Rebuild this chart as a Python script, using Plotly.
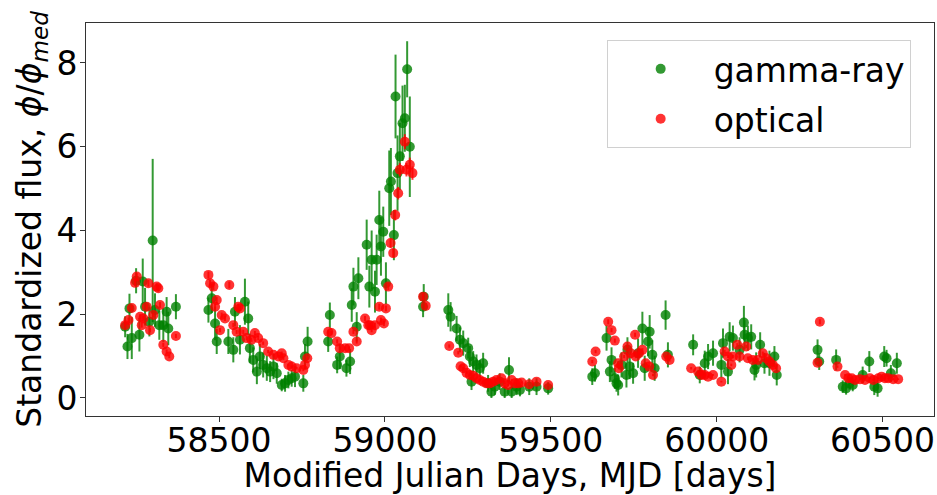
import plotly.graph_objects as go

# gamma-ray light curve (MJD, standardized flux, error)
gamma_mjd = [
    58217, 58224, 58230, 58237, 58250, 58260, 58270, 58277, 58290, 58300,
    58307, 58320, 58332, 58342, 58347, 58370,
    58468, 58478, 58488, 58493, 58528, 58543, 58548, 58563, 58578, 58588,
    58593, 58603, 58614, 58623, 58633, 58644, 58654, 58664, 58674, 58689,
    58699, 58709, 58719, 58729, 58754, 58759, 58767,
    58829, 58834, 58856, 58864, 58884, 58895, 58900, 58905, 58915, 58920,
    58945, 58953, 58960, 58970, 58975, 58983, 58988, 58995, 59003, 59013,
    59018, 59027, 59032, 59038, 59045, 59053, 59060, 59067, 59075,
    59115, 59117, 59191, 59198, 59216, 59226, 59236, 59251, 59256, 59261,
    59266, 59276, 59286, 59296, 59311, 59321, 59331, 59346, 59361, 59374,
    59382, 59397, 59407, 59435, 59457, 59492,
    59625, 59633, 59668, 59678, 59683, 59693, 59698, 59703, 59713, 59728,
    59731, 59738, 59748, 59763, 59776, 59783, 59793, 59798, 59806, 59813,
    59846, 59853,
    59929, 59949, 59964, 59974, 59989, 60014, 60019, 60034, 60039, 60049,
    60069, 60082, 60084, 60094, 60104, 60114, 60119, 60131, 60144, 60159,
    60174, 60181,
    60304, 60309, 60360, 60380, 60390, 60400, 60410, 60440, 60460, 60475,
    60485, 60505, 60512, 60525, 60543,
]
gamma_flux = [
    1.70, 1.23, 2.14, 1.43, 2.80, 1.51, 2.78, 2.18, 1.82, 3.76,
    2.10, 1.74, 1.74, 2.06, 1.66, 2.18,
    2.10, 2.38, 1.78, 1.35, 1.35, 1.15, 2.06, 1.39, 2.30, 1.90,
    1.19, 0.91, 0.63, 0.99, 0.79, 0.71, 0.63, 0.75, 0.59, 0.31,
    0.35, 0.43, 0.47, 0.51, 0.35, 0.99, 1.35,
    1.35, 1.98, 0.79, 0.99, 0.71, 0.87, 2.22, 2.66, 1.70, 2.86,
    3.66, 2.66, 3.30, 2.54, 3.30, 4.25, 3.62, 3.97, 2.74, 5.01,
    5.17, 3.89, 7.20, 5.37, 5.77, 6.56, 6.68, 7.85, 6.00,
    2.18, 2.42, 2.10, 1.94, 1.66, 1.39, 1.31, 1.19, 0.99, 0.39,
    0.87, 0.79, 0.71, 0.83, 0.35, 0.15, 0.27, 0.39, 0.15, 0.67,
    0.15, 0.27, 0.19, 0.27, 0.27, 0.23,
    0.51, 0.59, 1.43, 0.63, 0.91, 0.47, 0.35, 0.31, 0.79, 0.55,
    1.15, 0.75, 0.59, 1.07, 1.66, 0.71, 1.35, 1.58, 1.03, 0.71,
    1.98, 1.03,
    1.27, 0.55, 0.83, 0.99, 1.07, 0.79, 1.31, 0.63, 1.46, 1.43,
    1.15, 1.80, 1.51, 1.43, 1.46, 0.67, 0.79, 1.27, 0.83, 0.83,
    0.99, 0.55,
    1.15, 0.87, 0.91, 0.27, 0.23, 0.35, 0.31, 0.55, 0.87, 0.27,
    0.23, 0.99, 0.95, 0.59, 0.83,
]
gamma_err = [
    0.25, 0.30, 0.35, 0.50, 0.30, 0.40, 0.55, 0.45, 0.35, 1.95,
    0.40, 0.35, 0.40, 0.35, 0.40, 0.30,
    0.30, 0.35, 0.40, 0.30, 0.30, 0.30, 0.35, 0.35, 0.55, 0.40,
    0.35, 0.30, 0.30, 0.30, 0.30, 0.30, 0.25, 0.30, 0.25, 0.15,
    0.20, 0.20, 0.20, 0.25, 0.20, 0.30, 0.35,
    0.25, 0.30, 0.20, 0.30, 0.20, 0.30, 0.40, 0.45, 0.35, 0.50,
    0.60, 0.50, 0.70, 0.50, 0.60, 0.70, 0.70, 0.60, 0.50, 0.90,
    0.80, 0.60, 1.00, 0.90, 0.80, 0.90, 0.80, 0.67, 1.20,
    0.25, 0.30, 0.40, 0.35, 0.30, 0.30, 0.30, 0.25, 0.25, 0.20,
    0.25, 0.25, 0.20, 0.25, 0.20, 0.15, 0.20, 0.20, 0.15, 0.30,
    0.15, 0.20, 0.15, 0.20, 0.20, 0.15,
    0.20, 0.20, 0.30, 0.25, 0.30, 0.25, 0.20, 0.25, 0.30, 0.30,
    0.30, 0.30, 0.25, 0.35, 0.40, 0.30, 0.35, 0.40, 0.35, 0.30,
    0.35, 0.30,
    0.25, 0.20, 0.30, 0.30, 0.30, 0.30, 0.35, 0.30, 0.35, 0.30,
    0.30, 0.40, 0.35, 0.30, 0.30, 0.25, 0.30, 0.30, 0.25, 0.30,
    0.25, 0.25,
    0.25, 0.20, 0.25, 0.15, 0.15, 0.15, 0.15, 0.20, 0.25, 0.20,
    0.20, 0.25, 0.20, 0.20, 0.25,
]

# optical light curve
optical_mjd = [
    58217, 58227, 58237, 58247, 58252, 58262, 58267, 58272, 58282, 58287,
    58292, 58302, 58312, 58317, 58322, 58332, 58342, 58350, 58370,
    58468, 58473, 58483, 58488, 58493, 58503, 58508, 58518, 58531, 58543,
    58553, 58558, 58563, 58573, 58583, 58598, 58608, 58618, 58633, 58648,
    58664, 58679, 58689, 58694, 58709, 58719, 58734, 58754, 58759, 58766,
    58829, 58839, 58856, 58864, 58880, 58892, 58905, 58915, 58940, 58950,
    58955, 58960, 58970, 58983, 58988, 58997, 59003, 59010, 59017, 59025,
    59031, 59040, 59045, 59060, 59065, 59075, 59083,
    59115, 59123, 59194, 59221, 59228, 59236, 59246, 59256, 59266, 59276,
    59286, 59296, 59306, 59316, 59326, 59336, 59351, 59361, 59371, 59382,
    59392, 59402, 59412, 59435, 59457, 59492,
    59625, 59635, 59673, 59683, 59693, 59703, 59705, 59721, 59731, 59741,
    59754, 59756, 59766, 59776, 59786, 59797, 59808, 59848, 59858,
    59923, 59944, 59954, 59964, 59974, 59989, 60014, 60024, 60034, 60044,
    60049, 60062, 60069, 60089, 60094, 60109, 60124, 60139, 60149, 60159,
    60169, 60179,
    60304, 60311, 60364, 60387, 60397, 60407, 60417, 60432, 60447, 60462,
    60472, 60487, 60497, 60507, 60517, 60532, 60547,
]
optical_flux = [
    1.74, 1.86, 2.15, 2.75, 2.90, 1.94, 1.74, 1.90, 2.18, 2.74,
    1.62, 1.98, 2.66, 2.62, 2.22, 1.27, 1.11, 0.99, 1.48,
    2.94, 2.74, 2.66, 2.18, 2.34, 1.62, 1.98, 1.90, 2.70, 1.74,
    1.58, 2.18, 2.14, 1.58, 1.43, 1.39, 1.55, 1.43, 1.31, 1.11,
    1.03, 0.99, 1.07, 0.95, 0.79, 0.75, 0.71, 0.67, 0.79, 0.95,
    1.58, 1.55, 1.35, 1.19, 1.19, 1.19, 1.58, 1.35, 1.90, 1.74,
    1.74, 1.62, 1.74, 2.18, 1.86, 1.78, 2.14, 2.66, 3.70, 3.46,
    4.37, 4.89, 5.45, 6.12, 5.45, 5.57, 5.37,
    2.42, 2.20, 1.24, 1.08, 0.76, 0.71, 0.60, 0.55, 0.53, 0.47,
    0.43, 0.39, 0.35, 0.35, 0.39, 0.43, 0.47, 0.35, 0.31, 0.43,
    0.35, 0.35, 0.37, 0.33, 0.39, 0.31,
    0.87, 1.11, 1.82, 1.62, 1.37, 0.83, 0.71, 0.99, 1.23, 1.07,
    1.51, 0.99, 1.07, 1.15, 0.83, 0.75, 0.55, 0.99, 0.91,
    0.71, 0.63, 0.55, 0.55, 0.51, 0.55, 0.39, 1.11, 0.99, 0.79,
    0.99, 1.27, 0.99, 1.23, 0.95, 0.91, 0.91, 1.07, 0.95, 0.87,
    0.79, 0.71,
    0.84, 1.82, 0.75, 0.55, 0.47, 0.47, 0.43, 0.45, 0.43, 0.47,
    0.43, 0.47, 0.51, 0.47, 0.47, 0.45, 0.45,
]
optical_err = [
    0.06, 0.06, 0.07, 0.08, 0.08, 0.06, 0.06, 0.06, 0.07, 0.08,
    0.05, 0.06, 0.08, 0.08, 0.07, 0.05, 0.05, 0.04, 0.05,
    0.08, 0.08, 0.08, 0.07, 0.07, 0.05, 0.06, 0.06, 0.08, 0.05,
    0.05, 0.07, 0.07, 0.05, 0.05, 0.05, 0.05, 0.05, 0.04, 0.04,
    0.04, 0.04, 0.04, 0.04, 0.03, 0.03, 0.03, 0.03, 0.03, 0.04,
    0.05, 0.05, 0.05, 0.04, 0.04, 0.04, 0.05, 0.05, 0.06, 0.06,
    0.06, 0.05, 0.06, 0.07, 0.06, 0.06, 0.07, 0.08, 0.11, 0.10,
    0.13, 0.15, 0.16, 0.18, 0.16, 0.17, 0.16,
    0.08, 0.07, 0.04, 0.04, 0.03, 0.03, 0.03, 0.02, 0.02, 0.02,
    0.02, 0.02, 0.02, 0.02, 0.02, 0.02, 0.02, 0.02, 0.02, 0.02,
    0.02, 0.02, 0.02, 0.02, 0.02, 0.02,
    0.04, 0.04, 0.06, 0.05, 0.05, 0.04, 0.03, 0.04, 0.04, 0.04,
    0.05, 0.04, 0.04, 0.04, 0.03, 0.03, 0.03, 0.04, 0.04,
    0.03, 0.03, 0.02, 0.02, 0.02, 0.02, 0.02, 0.04, 0.04, 0.03,
    0.04, 0.04, 0.04, 0.04, 0.04, 0.04, 0.04, 0.04, 0.04, 0.03,
    0.03, 0.03,
    0.03, 0.06, 0.03, 0.02, 0.02, 0.02, 0.02, 0.02, 0.02, 0.02,
    0.02, 0.02, 0.02, 0.02, 0.02, 0.02, 0.02,
]

FONT = "DejaVu Sans"

fig = go.Figure()

fig.add_trace(go.Scatter(
    x=gamma_mjd, y=gamma_flux, mode="markers", name="gamma-ray",
    legendgroup="gamma",
    marker=dict(size=10, color="rgba(0,128,0,0.8)"),
    error_y=dict(type="data", array=gamma_err, color="rgba(0,128,0,0.8)",
                 thickness=2, width=0),
))
fig.add_trace(go.Scatter(
    x=optical_mjd, y=optical_flux, mode="markers", name="optical",
    legendgroup="optical",
    marker=dict(size=10, color="rgba(255,0,0,0.8)"),
    error_y=dict(type="data", array=optical_err, color="rgba(255,0,0,0.8)",
                 thickness=2, width=0),
))

axis_common = dict(
    showgrid=False, zeroline=False, showline=True, mirror=True,
    linecolor="#333333", linewidth=1, ticks="outside", ticklen=5,
    tickcolor="#333333", tickfont=dict(family=FONT, size=33, color="black"),
    automargin=False,
)

fig.update_layout(
    width=937, height=495,
    margin=dict(l=86, r=3, t=23, b=79),
    plot_bgcolor="white", paper_bgcolor="white",
    font=dict(family=FONT, color="black"),
    xaxis=dict(
        range=[58099, 60655], tickvals=[58500, 59000, 59500, 60000, 60500],
        tickformat="d", ticklabelstandoff=-10,
        title=dict(text="Modified Julian Days, MJD [days]",
                   font=dict(family=FONT, size=33), standoff=0),
        **axis_common,
    ),
    yaxis=dict(
        range=[-0.43, 8.955], tickvals=[0, 2, 4, 6, 8],
        ticklabelstandoff=-4,
        title=dict(text="Standardized flux, <i>\u03d5</i>/<i>\u03d5</i><sub><i>med</i></sub>",
                   font=dict(family=FONT, size=33), standoff=4),
        **axis_common,
    ),
    legend=dict(
        x=0.614, y=0.957, xanchor="left", yanchor="top",
        bgcolor="white", bordercolor="#d0d0d0", borderwidth=1,
        font=dict(family=FONT, size=33), itemwidth=96, tracegroupgap=4,
    ),
)

# drop the default page margin so the figure sits at the window's corner
fig.write_html("out.html", config={"displayModeBar": False},
               post_script="document.body.style.margin = '0';")
